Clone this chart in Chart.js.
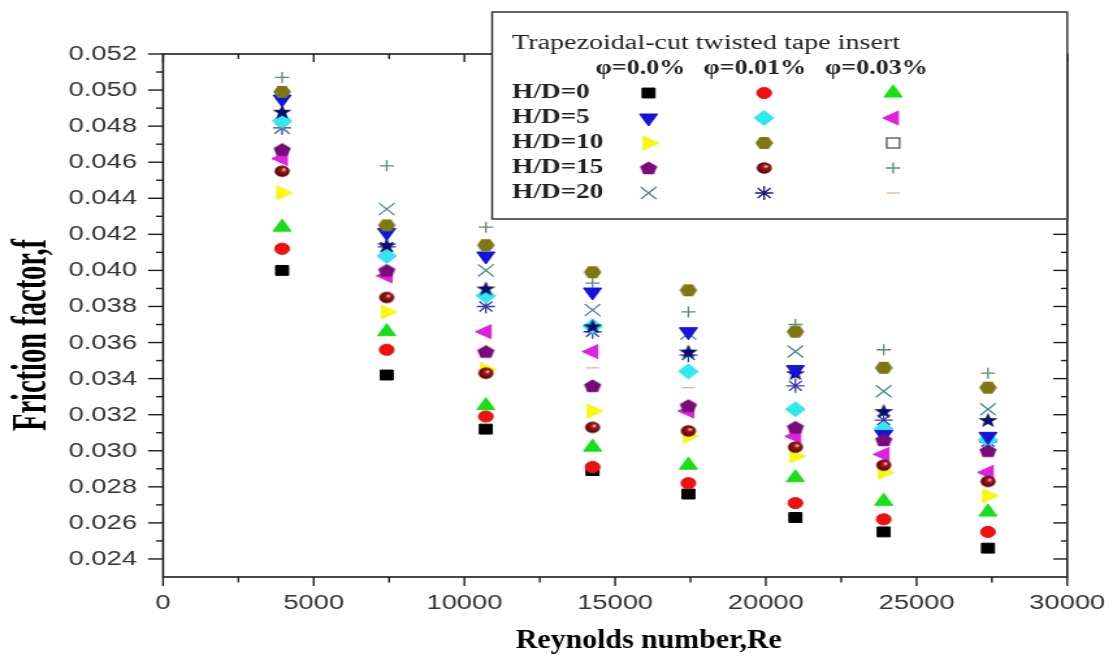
<!DOCTYPE html>
<html>
<head>
<meta charset="utf-8">
<title>Friction factor vs Reynolds number</title>
<script src="https://cdn.jsdelivr.net/npm/chart.js@4.4.1/dist/chart.umd.min.js"></script>
<style>
  html, body { margin: 0; padding: 0; background: #fff; }
  /* canvas is drawn 856px wide and widened by css, so the whole plot is stretched sideways */
  #plot { display: block; width: 1113px !important; height: 660px !important; }
</style>
</head>
<body>
<canvas id="plot" width="856" height="660" style="width:1113px;height:660px"></canvas>
<script>
// Reynolds numbers of the eight runs
const reynolds = [3950, 7420, 10710, 14250, 17430, 20980, 23910, 27370];

// friction factor f, per H/D ratio and nanofluid concentration phi
const hd0_phi00  = [0.0400, 0.0342, 0.0312, 0.0289, 0.0276, 0.0263, 0.0255, 0.0246];
const hd0_phi01  = [0.0412, 0.0356, 0.0319, 0.0291, 0.0282, 0.0271, 0.0262, 0.0255];
const hd0_phi03  = [0.0424, 0.0366, 0.0325, 0.0302, 0.0292, 0.0285, 0.0272, 0.0266];
const hd5_phi00  = [0.0495, 0.0421, 0.0408, 0.0388, 0.0366, 0.0345, 0.0309, 0.0308];
const hd5_phi01  = [0.0483, 0.0408, 0.0386, 0.0369, 0.0344, 0.0323, 0.0312, 0.0306];
const hd5_phi03  = [0.0462, 0.0397, 0.0366, 0.0355, 0.0322, 0.0308, 0.0298, 0.0288];
const hd10_phi00 = [0.0443, 0.0377, 0.0345, 0.0322, 0.0308, 0.0297, 0.0288, 0.0275];
const hd10_phi01 = [0.0499, 0.0425, 0.0414, 0.0399, 0.0389, 0.0366, 0.0346, 0.0335];
const hd10_phi03 = [0.0488, 0.0414, 0.0390, 0.0369, 0.0355, 0.0343, 0.0322, 0.0317];
const hd15_phi00 = [0.0467, 0.0400, 0.0355, 0.0336, 0.0325, 0.0313, 0.0306, 0.0300];
const hd15_phi01 = [0.0455, 0.0385, 0.0343, 0.0313, 0.0311, 0.0302, 0.0292, 0.0283];
const hd15_phi03 = [0.0507, 0.0458, 0.0424, 0.0393, 0.0377, 0.0370, 0.0356, 0.0343];
const hd20_phi00 = [0.0479, 0.0434, 0.0400, 0.0378, 0.0365, 0.0355, 0.0333, 0.0323];
const hd20_phi01 = [0.0479, 0.0413, 0.0380, 0.0366, 0.0353, 0.0336, 0.0317, 0.0305];
const hd20_phi03 = [0.0467, 0.0400, 0.0345, 0.0346, 0.0335, 0.0310, 0.0306, 0.0300];

// axis ticks and legend text
const xTicks = [0, 5000, 10000, 15000, 20000, 25000, 30000];
const yTicks = [0.024, 0.026, 0.028, 0.030, 0.032, 0.034, 0.036, 0.038,
                0.040, 0.042, 0.044, 0.046, 0.048, 0.050, 0.052];
const hdLabels = ['H/D=0', 'H/D=5', 'H/D=10', 'H/D=15', 'H/D=20'];
const phiLabels = ['\u03c6=0.0%', '\u03c6=0.01%', '\u03c6=0.03%'];
const legendTitle = 'Trapezoidal-cut twisted tape insert';

// little canvases for the marker shapes chart.js doesn't have
function makeMarker(w, h, paint) {
  const c = document.createElement('canvas');
  c.width = w;
  c.height = h;
  paint(c.getContext('2d'), w / 2, h / 2);
  return c;
}
function polygon(ctx, cx, cy, radii, n, start) {
  ctx.beginPath();
  for (let i = 0; i < n; i++) {
    const a = start + i * 2 * Math.PI / n;
    const r = radii[i % radii.length];
    ctx.lineTo(cx + r * Math.cos(a), cy + r * Math.sin(a));
  }
  ctx.closePath();
}
const hexagon = makeMarker(16, 16, (ctx, cx, cy) => {
  polygon(ctx, cx, cy, [6.8], 6, 0);
  ctx.fillStyle = '#7d7812';
  ctx.fill();
});
const pentagon = makeMarker(16, 16, (ctx, cx, cy) => {
  polygon(ctx, cx, cy + 0.6, [7], 5, -Math.PI / 2);
  ctx.fillStyle = '#7a0a7a';
  ctx.fill();
});
const solidStar = makeMarker(18, 18, (ctx, cx, cy) => {
  polygon(ctx, cx, cy + 0.6, [7.8, 3.2], 10, -Math.PI / 2);
  ctx.fillStyle = '#0b0b6c';
  ctx.fill();
});
const ball = makeMarker(14, 14, (ctx, cx, cy) => {
  const g = ctx.createRadialGradient(cx + 1.6, cy - 1.8, 0.3, cx, cy, 6);
  g.addColorStop(0, '#ffd0d0');
  g.addColorStop(0.3, '#a81818');
  g.addColorStop(1, '#4a0000');
  ctx.beginPath();
  ctx.arc(cx, cy, 5.8, 0, 2 * Math.PI);
  ctx.fillStyle = g;
  ctx.fill();
});

// one entry per legend cell, row = H/D, col = phi; order: lower sits on top
const series = [
  { row: 0, col: 0, data: hd0_phi00,  color: '#000000', style: 'rect', radius: 7, order: 10 },
  { row: 0, col: 1, data: hd0_phi01,  color: '#f01010', style: 'circle', radius: 5.6, order: 3 },
  { row: 0, col: 2, data: hd0_phi03,  color: '#18e018', style: 'triangle', radius: 8, order: 9 },
  { row: 1, col: 0, data: hd5_phi00,  color: '#1414e0', style: 'triangle', radius: 8, rotation: 180, order: 4 },
  { row: 1, col: 1, data: hd5_phi01,  color: '#30e8f0', style: 'rectRot', radius: 7.5, order: 6 },
  { row: 1, col: 2, data: hd5_phi03,  color: '#e020e0', style: 'triangle', radius: 8, rotation: 270, order: 7 },
  { row: 2, col: 0, data: hd10_phi00, color: '#f8f810', style: 'triangle', radius: 8, rotation: 90, order: 8 },
  { row: 2, col: 1, data: hd10_phi01, color: '#7d7812', style: hexagon, radius: 7, order: 0 },
  { row: 2, col: 2, data: hd10_phi03, color: '#0b0b6c', style: solidStar, radius: 7, order: 5,
    legend: { style: 'rect', radius: 7, color: '#6a6a6a', open: true } },
  { row: 3, col: 0, data: hd15_phi00, color: '#7a0a7a', style: pentagon, radius: 7, order: 1 },
  { row: 3, col: 1, data: hd15_phi01, color: '#800000', style: ball, radius: 6, order: 2 },
  { row: 3, col: 2, data: hd15_phi03, color: '#5d8c72', style: 'cross', radius: 5.5, line: true, order: 11 },
  { row: 4, col: 0, data: hd20_phi00, color: '#4f8a8c', style: 'crossRot', radius: 8.5, line: true, order: 12 },
  { row: 4, col: 1, data: hd20_phi01, color: '#3a3aa8', style: 'star', radius: 7, line: true, order: 13,
    legend: { color: '#1a1a80' } },
  { row: 4, col: 2, data: hd20_phi03, color: '#f0b088', style: 'line', radius: 5, line: true, order: 14 }
];

// stretch or squeeze text sideways by sx around its anchor
function stretchedText(ctx, text, x, y, sx, align) {
  ctx.save();
  ctx.translate(x, y);
  ctx.scale(sx, 1);
  ctx.textAlign = align;
  ctx.fillText(text, 0, 0);
  ctx.restore();
}

// boxed frame with ticks on all four sides, tick labels and axis titles
const frame = {
  id: 'frame',
  afterDatasetsDraw(chart) {
    const { ctx, chartArea: a, scales: { x, y } } = chart;
    ctx.save();
    ctx.strokeStyle = '#1c1c1c';
    ctx.lineWidth = 1.6;
    ctx.strokeRect(a.left, a.top, a.right - a.left, a.bottom - a.top);

    const tick = (x1, y1, x2, y2) => {
      ctx.beginPath();
      ctx.moveTo(x1, y1);
      ctx.lineTo(x2, y2);
      ctx.stroke();
    };
    ctx.lineWidth = 1.4;
    yTicks.forEach((v, i) => {
      const py = y.getPixelForValue(v);
      tick(a.left - 11.5, py, a.left, py);
      tick(a.right, py, a.right - 10.8, py);
      if (i > 0) {
        const pm = y.getPixelForValue((v + yTicks[i - 1]) / 2);
        tick(a.left - 5.4, pm, a.left, pm);
        tick(a.right, pm, a.right - 4.8, pm);
      }
    });
    xTicks.forEach((v, i) => {
      const px = x.getPixelForValue(v);
      tick(px, a.bottom, px, a.bottom + 9);
      tick(px, a.top, px, a.top + 8);
      if (i > 0) {
        const pm = x.getPixelForValue((v + xTicks[i - 1]) / 2);
        tick(pm, a.bottom, pm, a.bottom + 5.5);
        tick(pm, a.top, pm, a.top + 5);
      }
    });

    ctx.fillStyle = '#333';
    ctx.font = '20px "Liberation Sans", Arial, sans-serif';
    ctx.textBaseline = 'middle';
    yTicks.forEach(v => stretchedText(ctx, v.toFixed(3), 105.4, y.getPixelForValue(v) + 0.5, 1.05, 'right'));
    xTicks.forEach(v => stretchedText(ctx, String(v), x.getPixelForValue(v), 603, 1.05, 'center'));

    ctx.fillStyle = '#000';
    ctx.font = 'bold 28px "Liberation Serif", "Times New Roman", serif';
    ctx.textBaseline = 'alphabetic';
    stretchedText(ctx, 'Reynolds number,Re', 499, 648, 0.82, 'center');

    ctx.save();
    ctx.translate(25, 335);
    ctx.scale(1.32, 1);
    ctx.rotate(-Math.PI / 2);
    ctx.font = 'bold 28.5px "Liberation Serif", "Times New Roman", serif';
    ctx.textAlign = 'center';
    ctx.textBaseline = 'middle';
    ctx.fillText('Friction factor,f', 0, 0);
    ctx.restore();
    ctx.restore();
  }
};

// legend grid: rows of H/D, columns of phi, in a box over the top right corner
const legendBox = {
  id: 'legendBox',
  afterDraw(chart) {
    const { ctx, chartArea: a } = chart;
    const left = 378.5, top = 12, right = a.right, bottom = 219;
    ctx.save();
    ctx.fillStyle = '#fff';
    ctx.fillRect(left, top, right - left, bottom - top);
    ctx.strokeStyle = '#333';
    ctx.lineWidth = 1.5;
    ctx.strokeRect(left, top, right - left, bottom - top);

    ctx.fillStyle = '#222';
    ctx.textBaseline = 'middle';
    ctx.textAlign = 'left';
    ctx.font = '21.6px "Liberation Serif", "Times New Roman", serif';
    ctx.fillText(legendTitle, 393.8, 43);

    ctx.font = 'bold 20px "Liberation Serif", "Times New Roman", serif';
    const headX = [458, 541, 634.6];
    phiLabels.forEach((t, i) => ctx.fillText(t, headX[i], 69));

    const rowY = [93, 118, 143, 168, 193];
    ctx.font = 'bold 21px "Liberation Serif", "Times New Roman", serif';
    hdLabels.forEach((t, i) => ctx.fillText(t, 393.8, rowY[i]));

    const colX = [498.8, 587.7, 686.9];
    const drawPoint = Chart.helpers && Chart.helpers.drawPoint;
    series.forEach(s => {
      const lg = Object.assign({ style: s.style, radius: s.radius, color: s.color }, s.legend || {});
      const isLine = s.line && !lg.open;
      ctx.fillStyle = lg.open ? '#fff' : lg.color;
      ctx.strokeStyle = lg.color;
      ctx.lineWidth = lg.open ? 1.5 : (isLine ? 1.3 : 1);
      if (drawPoint) {
        drawPoint(ctx, {
          pointStyle: lg.style,
          radius: lg.radius,
          rotation: s.rotation || 0,
          borderWidth: ctx.lineWidth
        }, colX[s.col], rowY[s.row]);
      }
    });
    ctx.restore();
  }
};

new Chart(document.getElementById('plot'), {
  type: 'scatter',
  data: {
    datasets: series.map(s => ({
      label: hdLabels[s.row] + ', ' + phiLabels[s.col],
      data: reynolds.map((re, i) => ({ x: re, y: s.data[i] })),
      pointStyle: s.style,
      pointRadius: s.radius,
      pointRotation: s.rotation || 0,
      backgroundColor: s.color,
      borderColor: s.color,
      pointBorderWidth: s.line ? 1.3 : 1,
      order: s.order
    }))
  },
  options: {
    responsive: false,
    devicePixelRatio: 1,
    animation: false,
    layout: { padding: { left: 0, top: 54, right: 35.2, bottom: 0 } },
    plugins: {
      legend: { display: false },
      tooltip: { enabled: false }
    },
    scales: {
      x: {
        type: 'linear', min: 0, max: 30000,
        grid: { display: false }, border: { display: false },
        ticks: { display: false },
        afterFit: s => { s.height = 83; }
      },
      y: {
        type: 'linear', min: 0.023, max: 0.052,
        grid: { display: false }, border: { display: false },
        ticks: { display: false },
        afterFit: s => { s.width = 125.4; }
      }
    }
  },
  plugins: [frame, legendBox]
});
</script>
</body>
</html>
